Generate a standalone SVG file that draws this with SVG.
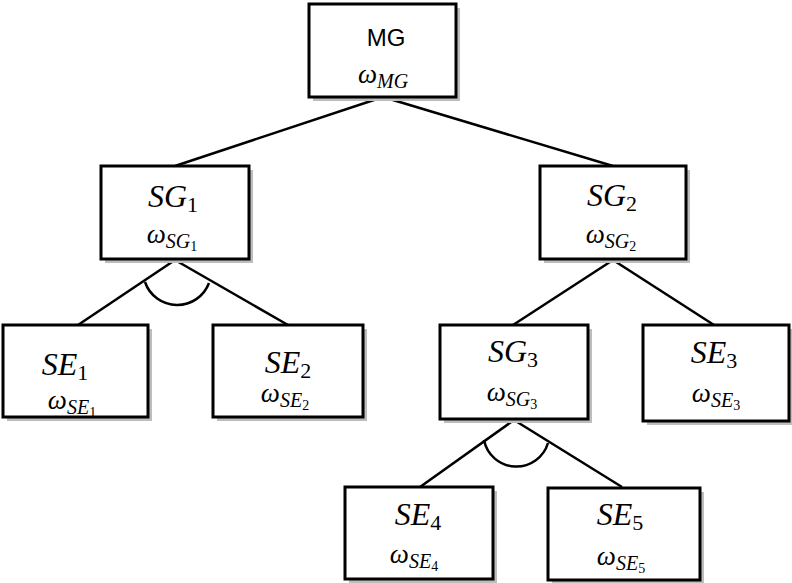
<svg xmlns="http://www.w3.org/2000/svg" width="792" height="583" viewBox="0 0 792 583">
<style>
.box{fill:#fff;stroke:#000;stroke-width:3}
.sh{fill:#bdbdbd}
.ln{stroke:#000;stroke-width:2.5;fill:none}
.m{font-family:"Liberation Serif",serif;font-style:italic;text-anchor:middle}
.big{font-size:32px}
.w{font-size:27px}
.s1{font-size:22px;font-style:normal}
.s2{font-size:20px}
.s3{font-size:14px;font-style:normal}
.sans{font-family:"Liberation Sans",Arial,sans-serif;font-size:24px;text-anchor:middle}
</style>
<g id="connectors">
<line class="ln" x1="383" y1="97" x2="175" y2="166"/>
<line class="ln" x1="383" y1="97" x2="613" y2="166"/>
<line class="ln" x1="175" y1="260" x2="78" y2="325"/>
<line class="ln" x1="175" y1="260" x2="288" y2="325"/>
<path class="ln" d="M145,282 A34,34 0 0 0 209,283"/>
<line class="ln" x1="613" y1="260" x2="513" y2="325"/>
<line class="ln" x1="613" y1="260" x2="714" y2="325"/>
<line class="ln" x1="514" y1="420" x2="420" y2="487"/>
<line class="ln" x1="514" y1="420" x2="622" y2="487"/>
<path class="ln" d="M484,440 A33,33 0 0 0 548,443"/>
</g>
<g id="MG">
<rect class="sh" x="313" y="8" width="147" height="93"/>
<rect class="box" x="309" y="4" width="147" height="93"/>
<text class="sans" x="386" y="46">MG</text>
<text class="m" x="383" y="83"><tspan class="w">ω</tspan><tspan class="s2" dy="5">MG</tspan></text>
</g>
<g id="SG1">
<rect class="sh" x="105" y="170" width="148" height="93"/>
<rect class="box" x="101" y="166" width="148" height="93"/>
<text class="m" x="173" y="207"><tspan class="big">SG</tspan><tspan class="s1" dy="5">1</tspan></text>
<text class="m" x="172" y="243"><tspan class="w">ω</tspan><tspan class="s2" dy="5">SG</tspan><tspan class="s3" dy="3">1</tspan></text>
</g>
<g id="SG2">
<rect class="sh" x="544" y="170" width="146" height="93"/>
<rect class="box" x="540" y="166" width="146" height="93"/>
<text class="m" x="612" y="206"><tspan class="big">SG</tspan><tspan class="s1" dy="5">2</tspan></text>
<text class="m" x="611" y="243"><tspan class="w">ω</tspan><tspan class="s2" dy="5">SG</tspan><tspan class="s3" dy="3">2</tspan></text>
</g>
<g id="SE1">
<rect class="sh" x="7" y="329" width="145" height="92"/>
<rect class="box" x="3" y="325" width="145" height="92"/>
<text class="m" x="65" y="375"><tspan class="big">SE</tspan><tspan class="s1" dy="5">1</tspan></text>
<text class="m" x="72" y="409"><tspan class="w">ω</tspan><tspan class="s2" dy="5">SE</tspan><tspan class="s3" dy="3">1</tspan></text>
</g>
<g id="SE2">
<rect class="sh" x="217" y="329" width="150" height="92"/>
<rect class="box" x="213" y="325" width="150" height="92"/>
<text class="m" x="288" y="373"><tspan class="big">SE</tspan><tspan class="s1" dy="5">2</tspan></text>
<text class="m" x="285" y="402"><tspan class="w">ω</tspan><tspan class="s2" dy="5">SE</tspan><tspan class="s3" dy="3">2</tspan></text>
</g>
<g id="SG3">
<rect class="sh" x="444" y="329" width="148" height="94"/>
<rect class="box" x="440" y="325" width="148" height="94"/>
<text class="m" x="513" y="362"><tspan class="big">SG</tspan><tspan class="s1" dy="5">3</tspan></text>
<text class="m" x="512" y="401"><tspan class="w">ω</tspan><tspan class="s2" dy="5">SG</tspan><tspan class="s3" dy="3">3</tspan></text>
</g>
<g id="SE3">
<rect class="sh" x="647" y="329" width="145" height="96"/>
<rect class="box" x="643" y="325" width="146" height="96"/>
<text class="m" x="714" y="363"><tspan class="big">SE</tspan><tspan class="s1" dy="5">3</tspan></text>
<text class="m" x="716" y="402"><tspan class="w">ω</tspan><tspan class="s2" dy="5">SE</tspan><tspan class="s3" dy="3">3</tspan></text>
</g>
<g id="SE4">
<rect class="sh" x="349" y="491" width="148" height="92"/>
<rect class="box" x="345" y="487" width="148" height="92"/>
<text class="m" x="418" y="525"><tspan class="big">SE</tspan><tspan class="s1" dy="5">4</tspan></text>
<text class="m" x="414" y="563"><tspan class="w">ω</tspan><tspan class="s2" dy="5">SE</tspan><tspan class="s3" dy="3">4</tspan></text>
</g>
<g id="SE5">
<rect class="sh" x="552" y="492" width="152" height="91"/>
<rect class="box" x="548" y="488" width="152" height="92"/>
<text class="m" x="620" y="525"><tspan class="big">SE</tspan><tspan class="s1" dy="5">5</tspan></text>
<text class="m" x="621" y="565"><tspan class="w">ω</tspan><tspan class="s2" dy="5">SE</tspan><tspan class="s3" dy="3">5</tspan></text>
</g>
</svg>
